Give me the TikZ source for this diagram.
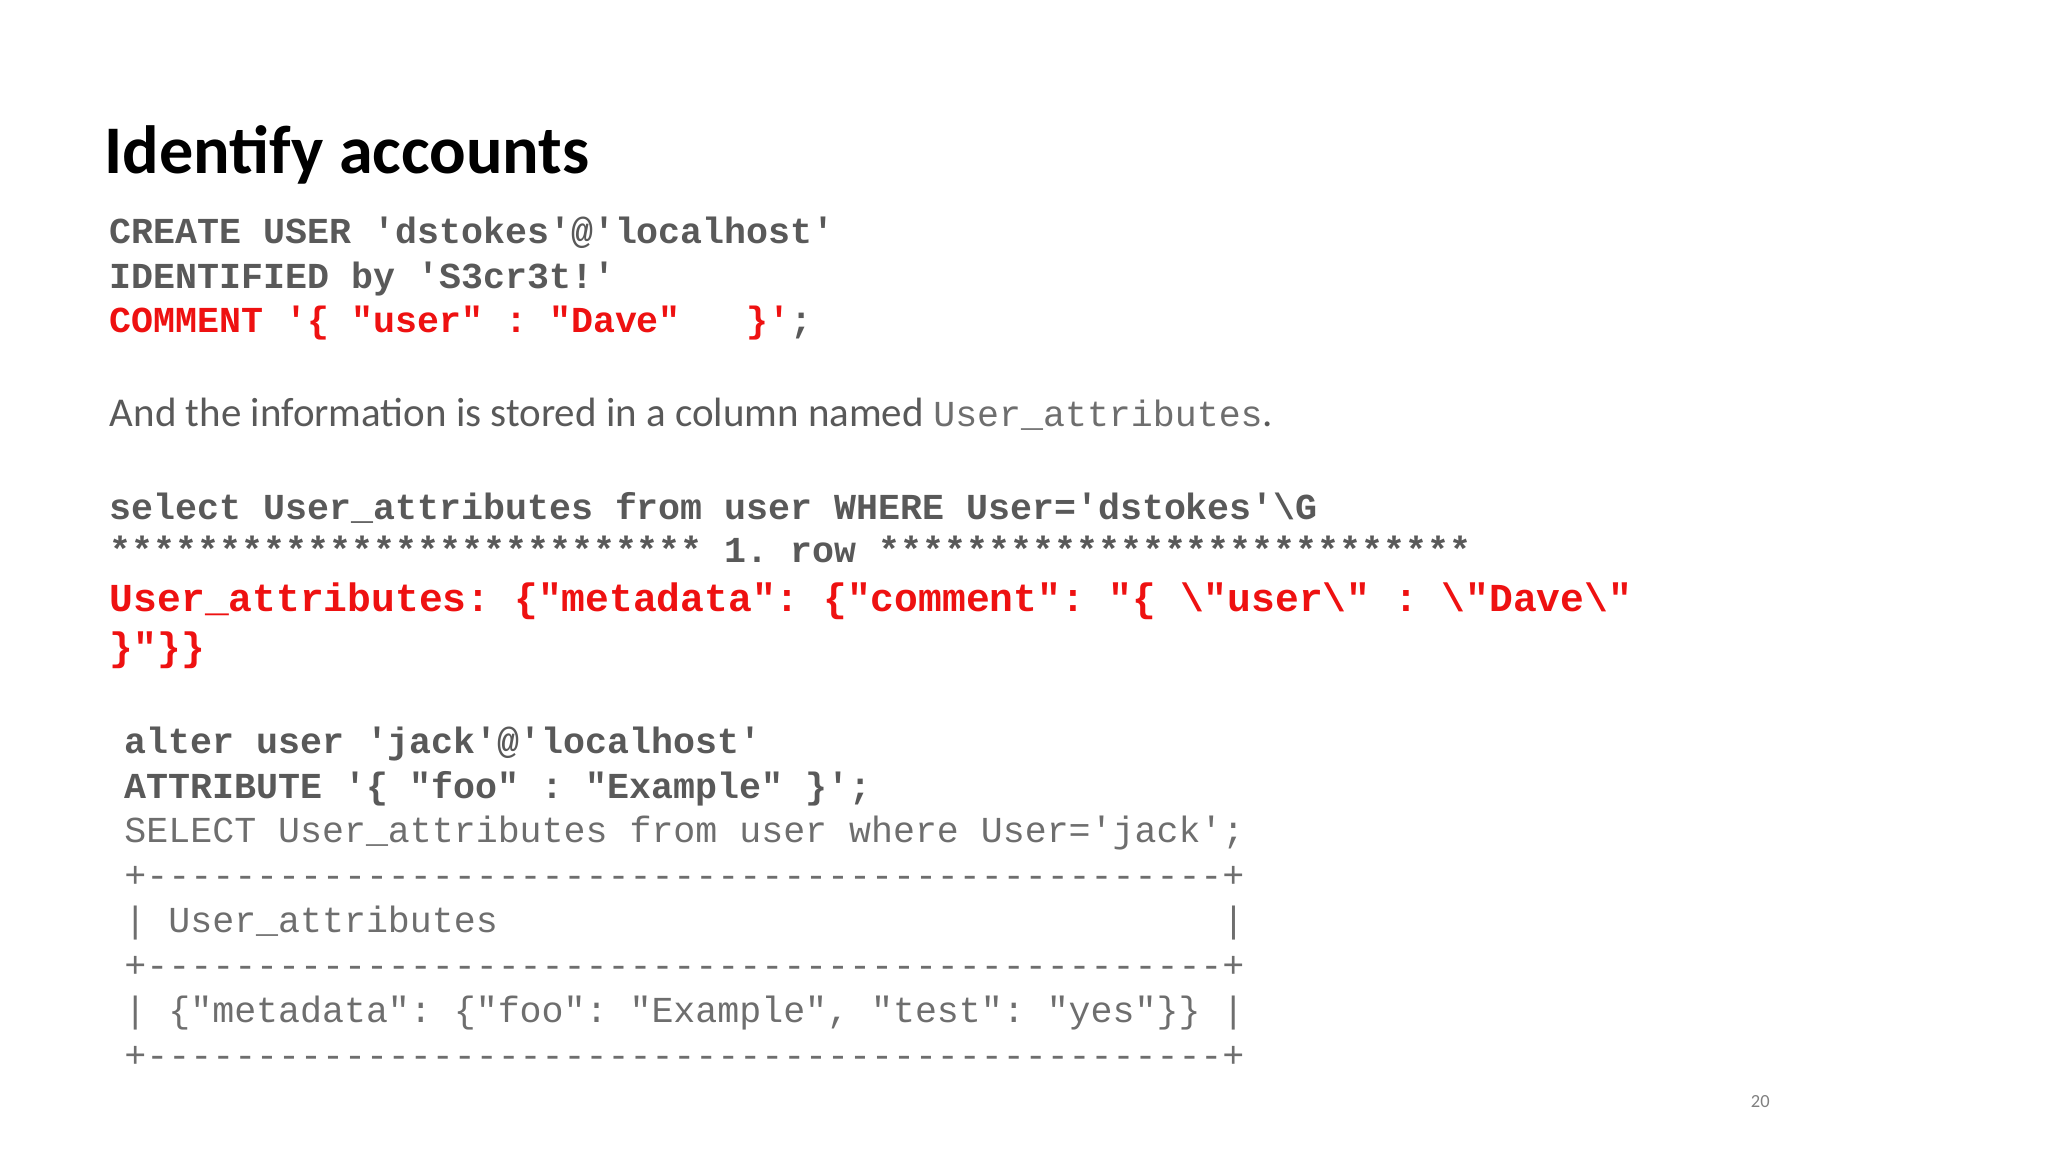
\documentclass[tikz,border=0pt]{standalone}
\usepackage{fontspec}
\setmainfont{Carlito}
\newfontfamily\cm{Liberation Mono}
\definecolor{cg}{HTML}{595959}
\definecolor{cl}{HTML}{6E6E6E}
\definecolor{cr}{HTML}{EE1111}
\begin{document}
\frenchspacing
\begin{tikzpicture}[x=1pt,y=-1pt,
  t/.style={anchor=base west,inner sep=0pt},
  cb/.style={t,font=\frenchspacing\cm\bfseries\fontsize{27.7}{28}\selectfont,text=cg},
  crb/.style={t,font=\frenchspacing\cm\bfseries\fontsize{30}{30}\selectfont,text=cr},
  cn/.style={t,font=\frenchspacing\cm\fontsize{27.7}{28}\selectfont,text=cl}]
\useasboundingbox (0,0) rectangle (1550,872);
\node[t,font=\bfseries\fontsize{51.6}{52}\selectfont] (title) at (79,131) {Identify accounts};
\node[cb] (l1) at (83,184) {CREATE USER 'dstokes'@'localhost'};
\node[cb] (l2) at (83,218) {IDENTIFIED by 'S3cr3t!'};
\node[cb] (l3) at (83,252) {\textcolor{cr}{COMMENT '\{ "user" : "Dave"~~~\}'}\textcolor{cg}{;}};
\node[t,font=\frenchspacing\fontsize{31}{31}\selectfont,text=cg] (l4) at (83,323) {And the information is stored in a column named {\cm\fontsize{27.7}{28}\selectfont\color{cl}User\_attributes}.};
\node[cb] (l5) at (83,393) {select User\_attributes from user WHERE User='dstokes'\textbackslash G};
\node[cb] (l6) at (83,426) {*************************** 1. row ***************************};
\node[crb] (l7) at (83,463) {User\_attributes: \{"metadata": \{"comment": "\{ \textbackslash"user\textbackslash" : \textbackslash"Dave\textbackslash"};
\node[crb] (l8) at (83,500) {\}"\}\}};
\node[cb] (m1) at (94,570) {alter user 'jack'@'localhost'};
\node[cb] (m2) at (94,604) {ATTRIBUTE '\{ "foo" : "Example" \}';};
\node[cn] (m3) at (94,638) {SELECT User\_attributes from user where User='jack';};
\node[cn] (m4) at (94,672) {+-------------------------------------------------+};
\node[cn] (m5) at (94,706) {| User\_attributes~~~~~~~~~~~~~~~~~~~~~~~~~~~~~~~~~|};
\node[cn] (m6) at (94,740) {+-------------------------------------------------+};
\node[cn] (m7) at (94,774) {| \{"metadata": \{"foo": "Example", "test": "yes"\}\} |};
\node[cn] (m8) at (94,808) {+-------------------------------------------------+};
\node[t,font=\fontsize{14}{14}\selectfont,text=gray] (pg) at (1325,838) {20};
\end{tikzpicture}
\end{document}
